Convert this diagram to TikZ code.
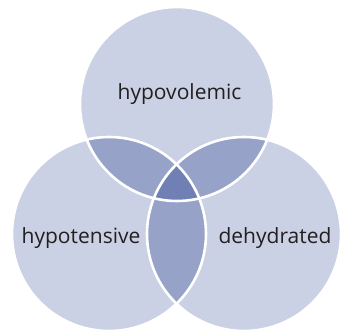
\documentclass[tikz,border=0pt]{standalone}
\usepackage{fontspec}
\setmainfont{Open Sans}
\definecolor{vlight}{RGB}{203,209,228}
\definecolor{vmid}{RGB}{150,162,200}
\definecolor{vdark}{RGB}{112,128,180}
\definecolor{vtext}{RGB}{35,31,32}
\begin{document}
\begin{tikzpicture}[x=1pt,y=-1pt,
  setcirc/.style={circle,minimum size=194pt,inner sep=0pt,fill=vlight},
  rim/.style={draw=white,line width=2.6pt},
  lbl/.style={text=vtext,font=\fontsize{21}{24}\selectfont,inner sep=0pt}]
\useasboundingbox[fill=white] (0,0) rectangle (341,333);
\def\R{97}
\coordinate (ct) at (177,104);
\coordinate (cl) at (109,234);
\coordinate (cr) at (244,234);
\node[setcirc] (top) at (ct) {};
\node[setcirc] (left) at (cl) {};
\node[setcirc] (right) at (cr) {};
\begin{scope}
  \clip (ct) circle (\R);
  \fill[vmid] (cl) circle (\R);
  \fill[vmid] (cr) circle (\R);
\end{scope}
\begin{scope}
  \clip (cl) circle (\R);
  \fill[vmid] (cr) circle (\R);
  \clip (cr) circle (\R);
  \fill[vdark] (ct) circle (\R);
\end{scope}
\draw[rim] (ct) circle (\R);
\draw[rim] (cl) circle (\R);
\draw[rim] (cr) circle (\R);
\node[lbl] (t1) at (179.5,94) {hypovolemic};
\node[lbl] (t2) at (81,238) {hypotensive};
\node[lbl] (t3) at (275,238) {dehydrated};
\end{tikzpicture}
\end{document}
